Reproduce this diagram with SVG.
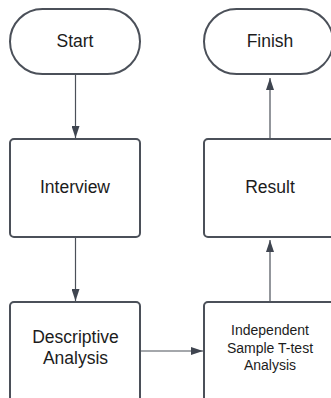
<svg xmlns="http://www.w3.org/2000/svg" width="331" height="398" viewBox="0 0 331 398">
<defs>
<marker id="ah" viewBox="0 0 12 8" refX="12" refY="4" markerWidth="12" markerHeight="8" markerUnits="userSpaceOnUse" orient="auto">
<path d="M0,0 L12,4 L0,8 Z" fill="#3f4550"/>
</marker>
<style>
.shape{fill:#ffffff;stroke:#4b5059;stroke-width:2}
.t{font-family:"Liberation Sans",Arial,sans-serif;font-size:17.5px;fill:#1c1c1c;text-anchor:middle}
.ts{font-family:"Liberation Sans",Arial,sans-serif;font-size:14px;fill:#1c1c1c;text-anchor:middle}
.c{stroke:#4b5059;stroke-width:1.2;fill:none;marker-end:url(#ah)}
</style>
</defs>
<rect width="331" height="398" fill="#ffffff"/>
<g id="connectors">
<line class="c" x1="75.5" y1="74" x2="75.5" y2="138"/>
<line class="c" x1="75.5" y1="237" x2="75.5" y2="301"/>
<line class="c" x1="140" y1="351" x2="203" y2="351"/>
<line class="c" x1="270" y1="302" x2="270" y2="240"/>
<line class="c" x1="270" y1="139" x2="270" y2="78"/>
</g>
<g id="start">
<rect class="shape" x="10" y="9" width="130" height="65" rx="32.5" ry="32.5"/>
<text class="t" x="75" y="47">Start</text>
</g>
<g id="interview">
<rect class="shape" x="10" y="139" width="130" height="98" rx="4"/>
<text class="t" x="75" y="193">Interview</text>
</g>
<g id="descriptive">
<rect class="shape" x="10" y="302" width="130" height="100" rx="4"/>
<text class="t" x="75.5" y="343">Descriptive</text>
<text class="t" x="75.5" y="364">Analysis</text>
</g>
<g id="independent">
<rect class="shape" x="204" y="302" width="132" height="100" rx="4"/>
<text class="ts" x="270" y="335">Independent</text>
<text class="ts" x="270" y="352.5">Sample T-test</text>
<text class="ts" x="270" y="370">Analysis</text>
</g>
<g id="result">
<rect class="shape" x="204" y="139" width="132" height="98" rx="4"/>
<text class="t" x="270" y="193">Result</text>
</g>
<g id="finish">
<rect class="shape" x="204" y="9" width="129" height="65" rx="32.5" ry="32.5"/>
<text class="t" x="270" y="47">Finish</text>
</g>
</svg>
